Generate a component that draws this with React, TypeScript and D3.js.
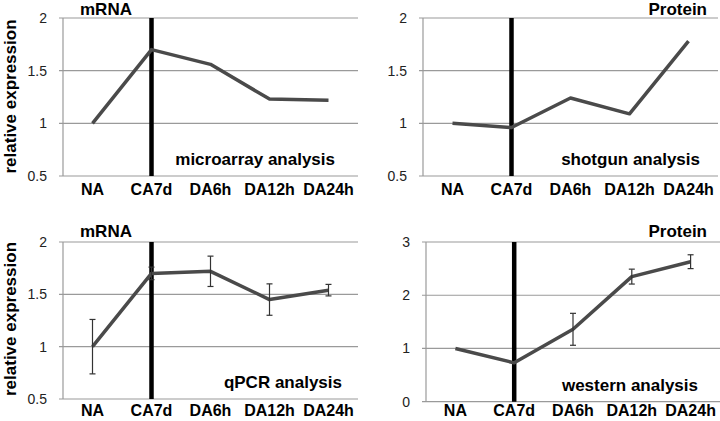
import React from 'react';
import * as d3 from 'd3';

const categories = ['NA', 'CA7d', 'DA6h', 'DA12h', 'DA24h'];

const microarray = [1.0, 1.7, 1.56, 1.23, 1.22];
const shotgun = [1.0, 0.96, 1.24, 1.09, 1.78];
const qpcr = [1.0, 1.7, 1.72, 1.45, 1.54];
const qpcrErr = [0.26, 0.06, 0.145, 0.15, 0.055];
const western = [1.0, 0.73, 1.36, 2.35, 2.63];
const westernErr = [null, null, 0.3, 0.14, 0.13];

const ticksA = [0.5, 1, 1.5, 2];
const ticksB = [0, 1, 2, 3];

const font = 'Liberation Sans, Arial, sans-serif';

type PanelProps = {
  left: number; right: number; top: number; bottom: number;
  domain: [number, number]; ticks: number[]; values: number[];
  errors?: (number | null)[]; title: string; titleX: number; titleAnchor: string;
  note: string; noteX: number;
};

function Panel(p: PanelProps) {
  const x = d3.scaleBand().domain(categories).range([p.left, p.right]);
  const y = d3.scaleLinear().domain(p.domain).range([p.bottom, p.top]);
  const cx = (c: string) => (x(c) as number) + x.bandwidth() / 2;
  const line = d3.line<number>().x((d, i) => cx(categories[i])).y(d => y(d));
  // keep the bottom row's labels inside the 421px window
  const labelY = Math.min(p.bottom + 19, 416);
  return (
    <g fontFamily={font}>
      {p.ticks.map(t => (
        <g key={t}>
          <line x1={p.left - 4} x2={p.right} y1={y(t)} y2={y(t)} stroke="#9a9a9a" strokeWidth={1.2} />
          <text x={p.left - 16} y={y(t)} dy="0.35em" textAnchor="end" fontSize={14} fill="#222">{String(t)}</text>
        </g>
      ))}
      <line x1={p.left} x2={p.left} y1={p.top} y2={p.bottom} stroke="#9a9a9a" strokeWidth={1.2} />
      <line x1={cx('CA7d')} x2={cx('CA7d')} y1={p.top} y2={p.bottom} stroke="#000" strokeWidth={4.5} />
      <path d={line(p.values) || ''} fill="none" stroke="#4a4a4a" strokeWidth={3.5} strokeLinejoin="round" />
      {p.errors && p.errors.map((e, i) => {
        if (e == null) return null;
        const xc = cx(categories[i]);
        const v = p.values[i];
        return (
          <g key={i} stroke="#333" strokeWidth={1.2}>
            <line x1={xc} x2={xc} y1={y(v - e)} y2={y(v + e)} />
            <line x1={xc - 3} x2={xc + 3} y1={y(v - e)} y2={y(v - e)} />
            <line x1={xc - 3} x2={xc + 3} y1={y(v + e)} y2={y(v + e)} />
          </g>
        );
      })}
      {categories.map(c => (
        <text key={c} x={cx(c)} y={labelY} textAnchor="middle" fontSize={16} fontWeight="bold" fill="#000">{c}</text>
      ))}
      <text x={p.titleX} y={Math.max(p.top - 5, 15)} textAnchor={p.titleAnchor} fontSize={17} fontWeight="bold" fill="#000">{p.title}</text>
      <text x={p.noteX} y={p.bottom - 11} textAnchor="end" fontSize={17} fontWeight="bold" fill="#000">{p.note}</text>
    </g>
  );
}

export default function App() {
  return (
    <svg width={720} height={421} style={{ position: 'absolute', left: 0, top: 0, background: '#fff' }}>
      <Panel left={63} right={358} top={18} bottom={176} domain={[0.5, 2]} ticks={ticksA} values={microarray}
        title="mRNA" titleX={80} titleAnchor="start" note="microarray analysis" noteX={335} />
      <Panel left={423} right={718} top={18} bottom={176} domain={[0.5, 2]} ticks={ticksA} values={shotgun}
        title="Protein" titleX={707} titleAnchor="end" note="shotgun analysis" noteX={700} />
      <Panel left={63} right={358} top={242} bottom={399} domain={[0.5, 2]} ticks={ticksA} values={qpcr} errors={qpcrErr}
        title="mRNA" titleX={80} titleAnchor="start" note="qPCR analysis" noteX={342} />
      <Panel left={426} right={720} top={242} bottom={401.7} domain={[0, 3]} ticks={ticksB} values={western} errors={westernErr}
        title="Protein" titleX={707} titleAnchor="end" note="western analysis" noteX={698} />
      <text transform="translate(16,96.5) rotate(-90)" textAnchor="middle" fontSize={17} fontWeight="bold"
        fontFamily={font} fill="#000">relative expression</text>
      <text transform="translate(16,319) rotate(-90)" textAnchor="middle" fontSize={17} fontWeight="bold"
        fontFamily={font} fill="#000">relative expression</text>
    </svg>
  );
}
